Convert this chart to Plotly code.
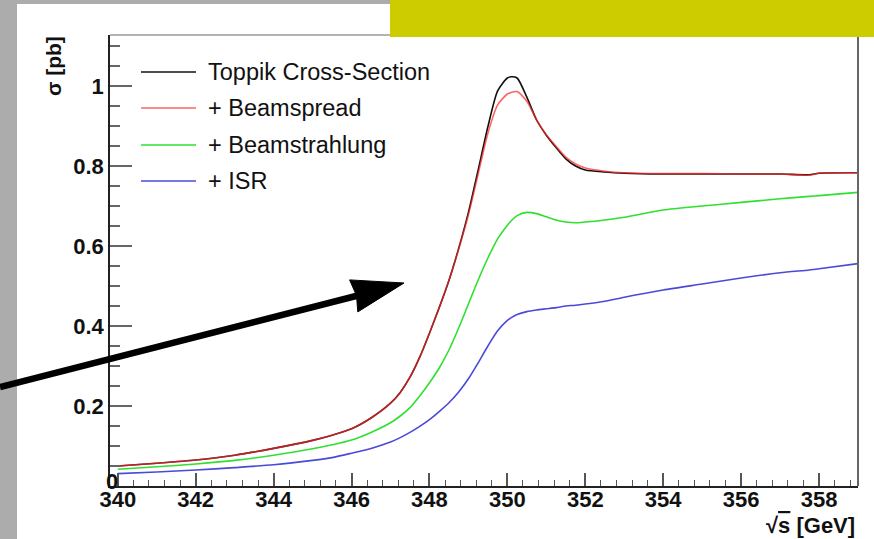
import plotly.graph_objects as go

# ---------------- data ----------------
sqrt_s = [340, 341, 342, 343, 344, 345, 345.5, 346, 346.5, 347, 347.25, 347.5, 347.75,
          348, 348.25, 348.5, 348.75, 349, 349.25, 349.5, 349.75,
          350, 350.1, 350.25, 350.5, 350.75, 351, 351.25, 351.5, 351.75, 352,
          352.5, 353, 354, 355, 356, 357, 357.75, 358, 359]

toppik = [0.050, 0.057, 0.065, 0.077, 0.094, 0.114, 0.127, 0.143, 0.170, 0.207, 0.234, 0.272, 0.322,
          0.382, 0.446, 0.514, 0.594, 0.684, 0.790, 0.898, 0.988,
          1.020, 1.023, 1.020, 0.972, 0.915, 0.877, 0.846, 0.818, 0.800, 0.790,
          0.785, 0.782, 0.780, 0.780, 0.780, 0.780, 0.778, 0.782, 0.783]

beamspread = [0.050, 0.057, 0.065, 0.077, 0.094, 0.114, 0.127, 0.143, 0.170, 0.207, 0.234, 0.272, 0.322,
              0.382, 0.446, 0.514, 0.592, 0.678, 0.780, 0.882, 0.953,
              0.980, 0.984, 0.986, 0.962, 0.915, 0.878, 0.849, 0.822, 0.805, 0.795,
              0.787, 0.783, 0.781, 0.781, 0.780, 0.780, 0.777, 0.782, 0.783]

beamstrahlung = [0.042, 0.048, 0.055, 0.064, 0.077, 0.093, 0.103, 0.115, 0.134, 0.158, 0.175, 0.196, 0.225,
                 0.258, 0.295, 0.340, 0.395, 0.455, 0.515, 0.570, 0.618,
                 0.652, 0.663, 0.676, 0.684, 0.681, 0.673, 0.665, 0.660, 0.658, 0.660,
                 0.665, 0.672, 0.690, 0.700, 0.709, 0.718, 0.724, 0.726, 0.734]

isr = [0.031, 0.035, 0.040, 0.046, 0.053, 0.064, 0.071, 0.082, 0.094, 0.110, 0.121, 0.134, 0.149,
       0.166, 0.186, 0.208, 0.235, 0.268, 0.308, 0.350, 0.388,
       0.414, 0.421, 0.429, 0.436, 0.440, 0.443, 0.446, 0.450, 0.452, 0.455,
       0.462, 0.472, 0.490, 0.505, 0.520, 0.533, 0.540, 0.543, 0.556]

series_names = ["Toppik Cross-Section", "+ Beamspread", "+ Beamstrahlung", "+ ISR"]
series_values = [toppik, beamspread, beamstrahlung, isr]
series_colors = ["#111111", "rgba(255,40,40,0.72)", "#2fe02f", "#4a4ad8"]

x_tick_vals = [340, 342, 344, 346, 348, 350, 352, 354, 356, 358]
x_tick_text = ["340", "342", "344", "346", "348", "350", "352", "354", "356", "358"]
y_tick_vals = [0.2, 0.4, 0.6, 0.8, 1.0]
y_tick_text = ["0.2", "0.4", "0.6", "0.8", "1"]

x_title = "√<span style='text-decoration:overline'>s</span> [GeV]"
y_title = "σ [pb]"

# ---------------- layout helpers (page pixels -> paper coords) ----------------
W, H = 874, 539
L, R, T, B = 110, 858, 35, 486


def px(x):
    return (x - L) / (R - L)


def py(y):
    return (B - y) / (B - T)


FONT = "Liberation Sans, Arial, Helvetica, sans-serif"

fig = go.Figure()
for name, vals, col in zip(series_names, series_values, series_colors):
    fig.add_trace(go.Scatter(x=sqrt_s, y=vals, mode="lines", name=name,
                             line=dict(color=col, width=1.6, shape="spline", smoothing=0.7),
                             showlegend=False))

shapes = []
# grey page strips and yellow banner
shapes.append(dict(type="rect", xref="paper", yref="paper", x0=px(0), x1=px(17), y0=py(539), y1=py(0),
                   fillcolor="#acacac", line=dict(width=0), layer="above"))
shapes.append(dict(type="rect", xref="paper", yref="paper", x0=px(0), x1=px(390), y0=py(4), y1=py(0),
                   fillcolor="#acacac", line=dict(width=0), layer="above"))
# frame top / right
shapes.append(dict(type="line", xref="paper", yref="paper", x0=0, x1=1, y0=1, y1=1,
                   line=dict(color="#9a9a9a", width=1.5), layer="above"))
shapes.append(dict(type="line", xref="paper", yref="paper", x0=1, x1=1, y0=0, y1=1,
                   line=dict(color="#666666", width=2), layer="above"))
shapes.append(dict(type="rect", xref="paper", yref="paper", x0=px(390), x1=px(874), y0=py(37), y1=py(0),
                   fillcolor="#cccc00", line=dict(width=0), layer="above"))

# manual legend
legend_rows = [72, 108, 145, 181]
annotations = []
for name, col, yy in zip(series_names, series_colors, legend_rows):
    shapes.append(dict(type="line", xref="paper", yref="paper", x0=px(141), x1=px(196), y0=py(yy), y1=py(yy),
                       line=dict(color=col, width=1.6)))
    annotations.append(dict(xref="paper", yref="paper", x=px(206), y=py(yy), xanchor="left", yanchor="middle",
                            text=name, showarrow=False, font=dict(family=FONT, size=23.5, color="#111111")))

# black arrow
shapes.append(dict(type="line", xref="paper", yref="paper", x0=px(0), y0=py(387), x1=px(358), y1=py(295.5),
                   line=dict(color="black", width=6.5), layer="above"))
head = [(404, 283), (349.6, 279.9), (356.5, 295.5), (357.8, 311.9)]
path = "M " + " L ".join(f"{px(a):.5f},{py(b):.5f}" for a, b in head) + " Z"
shapes.append(dict(type="path", xref="paper", yref="paper", path=path, fillcolor="black",
                   line=dict(color="black", width=1), layer="above"))

# axis titles and the "0" label
annotations.append(dict(xref="paper", yref="paper", x=px(53), y=py(66), text=y_title, textangle=-90,
                        showarrow=False, xanchor="center", yanchor="middle",
                        font=dict(family=FONT, size=21, color="#111111", weight="bold")))
annotations.append(dict(xref="paper", yref="paper", x=px(857), y=py(525), text=x_title,
                        showarrow=False, xanchor="right", yanchor="middle",
                        font=dict(family=FONT, size=22, color="#111111", weight="bold")))
annotations.append(dict(xref="paper", yref="paper", x=px(112), y=py(481), text="0",
                        showarrow=False, xanchor="center", yanchor="middle",
                        font=dict(family=FONT, size=22, color="#111111", weight="bold")))

fig.update_layout(
    width=W, height=H,
    margin=dict(l=L, r=W - R, t=T, b=H - B, pad=0),
    paper_bgcolor="white", plot_bgcolor="white",
    shapes=shapes, annotations=annotations,
    xaxis=dict(range=[339.8, 359.0], showgrid=False, zeroline=False,
               showline=True, linecolor="#222222", linewidth=1.5,
               tickmode="array", tickvals=x_tick_vals, ticktext=x_tick_text,
               ticks="inside", ticklen=13, tickwidth=1.5, tickcolor="#555555",
               ticklabelstandoff=-7,
               tickfont=dict(family=FONT, size=22, color="#111111", weight="bold"),
               minor=dict(ticks="inside", ticklen=6, tickwidth=1.2, tickcolor="#555555",
                          tickmode="linear", tick0=340, dtick=0.4, showgrid=False)),
    yaxis=dict(range=[0, 1.1275], showgrid=False, zeroline=False,
               showline=True, linecolor="#222222", linewidth=1.5,
               tickmode="array", tickvals=y_tick_vals, ticktext=y_tick_text,
               ticks="inside", ticklen=22, tickwidth=1.5, tickcolor="#666666",
               tickfont=dict(family=FONT, size=22, color="#111111", weight="bold"),
               minor=dict(ticks="inside", ticklen=10, tickwidth=1.5, tickcolor="#666666",
                          tickmode="linear", tick0=0, dtick=0.05, showgrid=False)),
)

fig.write_html("out.html", config={"displayModeBar": False},
               post_script="document.body.style.margin='0';")
